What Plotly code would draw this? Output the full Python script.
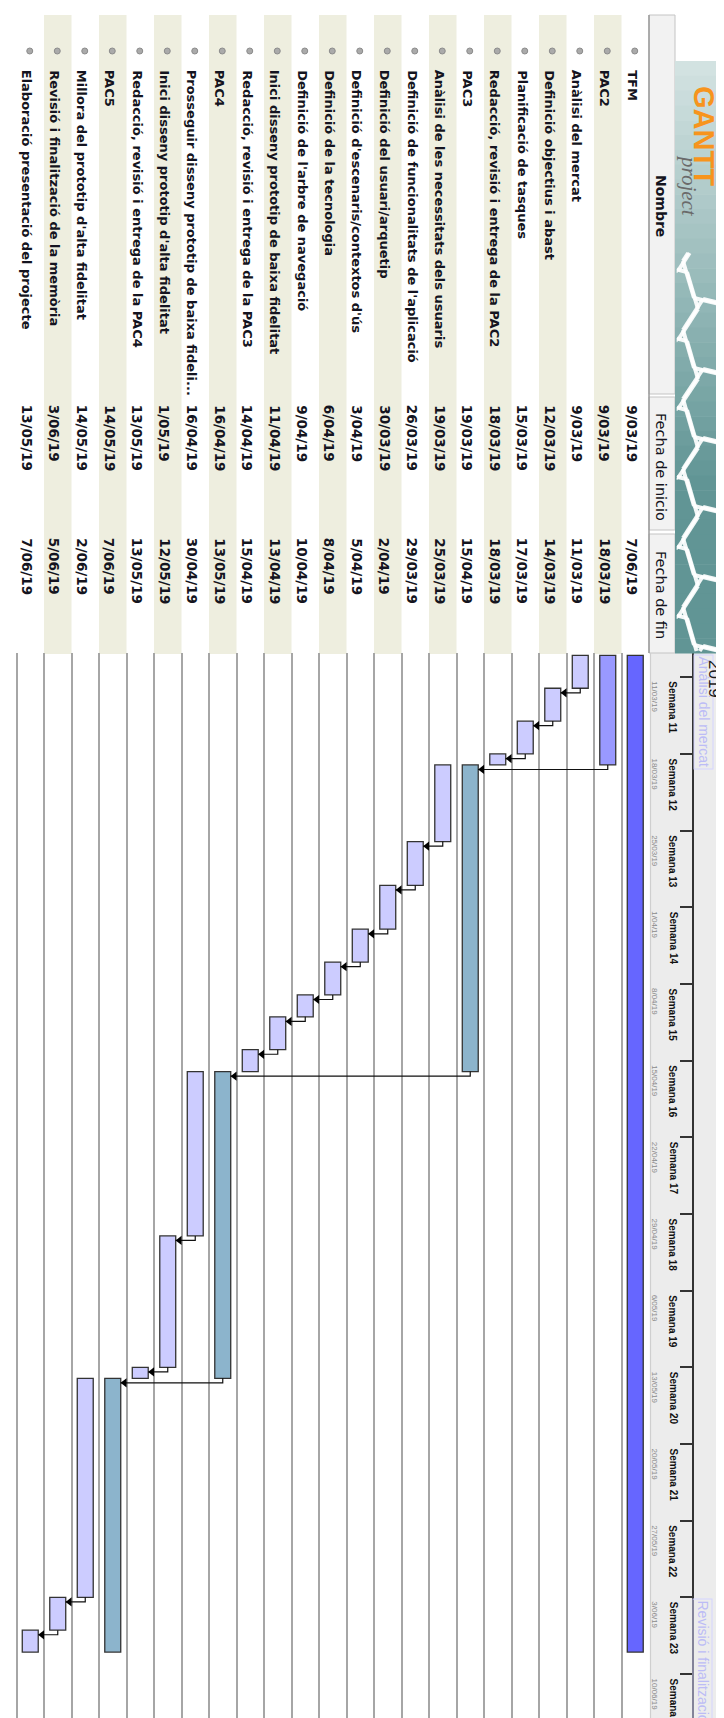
import math
import plotly.graph_objects as go
from datetime import datetime, timedelta

# ---------------- data ----------------
names = [
    "TFM", "PAC2", "Anàlisi del mercat", "Definició objectius i abast",
    "Planificació de tasques", "Redacció, revisió i entrega de la PAC2", "PAC3",
    "Anàlisi de les necessitats dels usuaris", "Definició de funcionalitats de l'aplicació",
    "Definició del usuari/arquetip", "Definició d'escenaris/contextos d'ús",
    "Definició de la tecnologia", "Definició de l'arbre de navegació",
    "Inici disseny prototip de baixa fidelitat", "Redacció, revisió i entrega de la PAC3",
    "PAC4", "Prosseguir disseny prototip de baixa fideli...",
    "Inici disseny prototip d'alta fidelitat", "Redacció, revisió i entrega de la PAC4",
    "PAC5", "Millora del prototip d'alta fidelitat", "Revisió i finalització de la memòria",
    "Elaboració presentació del projecte",
]
start_labels = ["9/03/19", "9/03/19", "9/03/19", "12/03/19", "15/03/19", "18/03/19", "19/03/19",
                "19/03/19", "26/03/19", "30/03/19", "3/04/19", "6/04/19", "9/04/19", "11/04/19",
                "14/04/19", "16/04/19", "16/04/19", "1/05/19", "13/05/19", "14/05/19", "14/05/19",
                "3/06/19", "13/05/19"]
end_labels = ["7/06/19", "18/03/19", "11/03/19", "14/03/19", "17/03/19", "18/03/19", "15/04/19",
              "25/03/19", "29/03/19", "2/04/19", "5/04/19", "8/04/19", "10/04/19", "13/04/19",
              "15/04/19", "13/05/19", "30/04/19", "12/05/19", "13/05/19", "7/06/19", "2/06/19",
              "5/06/19", "7/06/19"]
bar_start = ["2019-03-09", "2019-03-09", "2019-03-09", "2019-03-12", "2019-03-15", "2019-03-18",
             "2019-03-19", "2019-03-19", "2019-03-26", "2019-03-30", "2019-04-03", "2019-04-06",
             "2019-04-09", "2019-04-11", "2019-04-14", "2019-04-16", "2019-04-16", "2019-05-01",
             "2019-05-13", "2019-05-14", "2019-05-14", "2019-06-03", "2019-06-06"]
bar_end = ["2019-06-07", "2019-03-18", "2019-03-11", "2019-03-14", "2019-03-17", "2019-03-18",
           "2019-04-15", "2019-03-25", "2019-03-29", "2019-04-02", "2019-04-05", "2019-04-08",
           "2019-04-10", "2019-04-13", "2019-04-15", "2019-05-13", "2019-04-30", "2019-05-12",
           "2019-05-13", "2019-06-07", "2019-06-02", "2019-06-05", "2019-06-07"]
kinds = ["root", "pac2", "task", "task", "task", "task", "pac", "task", "task", "task", "task",
         "task", "task", "task", "task", "pac", "task", "task", "task", "pac", "task", "task", "task"]
deps = [(2, 3), (3, 4), (4, 5), (1, 6), (7, 8), (8, 9), (9, 10), (10, 11), (11, 12), (12, 13),
        (13, 14), (6, 15), (16, 17), (17, 18), (15, 19), (20, 21), (21, 22)]
week_starts = ["2019-03-11", "2019-03-18", "2019-03-25", "2019-04-01", "2019-04-08", "2019-04-15",
               "2019-04-22", "2019-04-29", "2019-05-06", "2019-05-13", "2019-05-20", "2019-05-27",
               "2019-06-03", "2019-06-10"]
week_labels = ["Semana 11", "Semana 12", "Semana 13", "Semana 14", "Semana 15", "Semana 16",
               "Semana 17", "Semana 18", "Semana 19", "Semana 20", "Semana 21", "Semana 22",
               "Semana 23", "Semana 24"]
week_dates = ["11/03/19", "18/03/19", "25/03/19", "1/04/19", "8/04/19", "15/04/19", "22/04/19",
              "29/04/19", "6/05/19", "13/05/19", "20/05/19", "27/05/19", "3/06/19", "10/06/19"]

# ---------------- geometry / style ----------------
W, H = 724, 1718
ROW_H = 27.5
TABLE_RIGHT = 641
CHART_TOP = 645
DAY0 = datetime(2019, 3, 11)
DAY0_PX = 669.3
PPD = 76.67 / 7

colors = {"root": "#6666ff", "pac2": "#9999ff", "pac": "#8cb4cc", "task": "#ccccff"}


def px(p):
    return p / W


def py(p):
    return 1 - p / H


def d(s):
    return datetime.strptime(s, "%Y-%m-%d")


idx = list(range(len(names)))
starts = [d(s) for s in bar_start]
ends = [d(s) + timedelta(days=1) for s in bar_end]
durs = [(e - s).total_seconds() * 1000 for s, e in zip(starts, ends)]

fig = go.Figure()

fig.add_trace(go.Bar(
    x=idx, y=durs, base=[s.strftime("%Y-%m-%d") for s in starts], width=0.58,
    orientation="v",
    marker=dict(color=[colors[k] for k in kinds], line=dict(color="#333333", width=1.3)),
    hoverinfo="skip", showlegend=False,
))

# dependency arrows
HALF_BAR = 0.29
lx, ly, ax_, ay_ = [], [], [], []
off = timedelta(hours=10)
for a, b in deps:
    yb = starts[b] + off
    lx += [a, a, b - HALF_BAR, None]
    ly += [ends[a], yb, yb, None]
    ax_.append(b - HALF_BAR - 0.14)
    ay_.append(yb)
fig.add_trace(go.Scatter(x=lx, y=ly, mode="lines", line=dict(color="#111111", width=1.2),
                         hoverinfo="skip", showlegend=False))
fig.add_trace(go.Scatter(x=ax_, y=ay_, mode="markers",
                         marker=dict(symbol="triangle-left", size=8, color="#000000"),
                         hoverinfo="skip", showlegend=False))

shapes = []
annotations = []

# table stripes
for k in idx:
    if k % 2 == 1:
        shapes.append(dict(type="rect", xref="x", yref="paper", x0=k - 0.5, x1=k + 0.5,
                           y0=py(7), y1=py(CHART_TOP + 1), fillcolor="#eeeedf",
                           line=dict(width=0), layer="below"))
# bullets
for k in idx:
    shapes.append(dict(type="circle", xref="x", yref="paper", xsizemode="pixel",
                       ysizemode="pixel", xanchor=k, yanchor=py(43), x0=-3.5, x1=2.5,
                       y0=-3, y1=3, fillcolor="#aaaaaa", line=dict(color="#8c8c8c", width=1)))

# header column (table)
for (a, b) in [(7, 386), (389, 522), (526, CHART_TOP)]:
    shapes.append(dict(type="rect", xref="paper", yref="paper", x0=px(TABLE_RIGHT),
                       x1=px(667), y0=py(a), y1=py(b), fillcolor="#f2f2f2",
                       line=dict(color="#c4c4c4", width=1)))
shapes.append(dict(type="line", xref="paper", yref="paper", x0=px(TABLE_RIGHT), x1=px(TABLE_RIGHT),
                   y0=py(7), y1=py(CHART_TOP), line=dict(color="#9a9a9a", width=1.5)))


# logo background (stepwise gradient)
def lerp(c1, c2, t):
    return "#%02x%02x%02x" % tuple(int(round(c1[i] + (c2[i] - c1[i]) * t)) for i in range(3))


top_c, bot_c = (210, 226, 225), (97, 149, 149)
n_strips = 40
y_a, y_b = 53, CHART_TOP
for i in range(n_strips):
    t = min(1.0, i / (n_strips * 0.7))
    y0 = y_a + (y_b - y_a) * i / n_strips
    y1 = y_a + (y_b - y_a) * (i + 1) / n_strips + 0.6
    shapes.append(dict(type="rect", xref="paper", yref="paper", x0=px(667), x1=px(W),
                       y0=py(y0), y1=py(y1), fillcolor=lerp(top_c, bot_c, t),
                       line=dict(width=0)))


def clip(x0, y0, x1, y1, xmin, ymin, xmax, ymax):
    dx, dy = x1 - x0, y1 - y0
    p = [-dx, dx, -dy, dy]
    q = [x0 - xmin, xmax - x0, y0 - ymin, ymax - y0]
    u1, u2 = 0.0, 1.0
    for pi, qi in zip(p, q):
        if pi == 0:
            if qi < 0:
                return None
        else:
            t = qi / pi
            if pi < 0:
                u1 = max(u1, t)
            else:
                u2 = min(u2, t)
    if u1 > u2:
        return None
    return (x0 + u1 * dx, y0 + u1 * dy, x0 + u2 * dx, y0 + u2 * dy)


# honeycomb (decoration of the logo)
RX, RY = 30, 40
segs = set()
for col in range(-1, 4):
    for row in range(-1, 9):
        cx = 660 + col * 1.5 * RX
        cy = 225 + row * math.sqrt(3) * RY + (col % 2) * math.sqrt(3) * RY / 2
        pts = [(cx + RX * math.cos(math.radians(60 * j + 10)),
                cy + RY * math.sin(math.radians(60 * j + 10))) for j in range(6)]
        for j in range(6):
            p1, p2 = pts[j], pts[(j + 1) % 6]
            key = tuple(sorted([(round(p1[0]), round(p1[1])), (round(p2[0]), round(p2[1]))]))
            segs.add(key)
for (a1, a2) in segs:
    c = clip(a1[0], a1[1], a2[0], a2[1], 669, 245, W, CHART_TOP - 2)
    if c:
        shapes.append(dict(type="line", xref="paper", yref="paper", x0=px(c[0]), y0=py(c[1]),
                           x1=px(c[2]), y1=py(c[3]),
                           line=dict(color="rgba(255,255,255,0.92)", width=4)))

# timeline header background
shapes.append(dict(type="rect", xref="paper", yref="paper", x0=px(TABLE_RIGHT + 1), x1=px(W),
                   y0=py(CHART_TOP), y1=0, fillcolor="#ececec", line=dict(width=0), layer="below"))
shapes.append(dict(type="line", xref="paper", yref="paper", x0=px(642.5), x1=px(642.5),
                   y0=py(CHART_TOP), y1=0, line=dict(color="#cfcfcf", width=1.2)))

# table texts
FONT = "DejaVu Sans"
for k in idx:
    annotations.append(dict(xref="x", yref="paper", x=k, y=py(60), xanchor="center",
                            yanchor="top", textangle=90, showarrow=False, xshift=-3,
                            text="<b>%s</b>" % names[k],
                            font=dict(family=FONT, size=13, color="#141420")))
    annotations.append(dict(xref="x", yref="paper", x=k, y=py(395), xanchor="center",
                            yanchor="top", textangle=90, showarrow=False, xshift=-3,
                            text="<b>%s</b>" % start_labels[k],
                            font=dict(family=FONT, size=13.5, color="#141420")))
    annotations.append(dict(xref="x", yref="paper", x=k, y=py(528), xanchor="center",
                            yanchor="top", textangle=90, showarrow=False, xshift=-3,
                            text="<b>%s</b>" % end_labels[k],
                            font=dict(family=FONT, size=13.5, color="#141420")))

for txt, yc, bold, sz in [("Nombre", 198, True, 14), ("Fecha de inicio", 459, False, 14.5),
                          ("Fecha de fin", 587, False, 14.5)]:
    annotations.append(dict(xref="paper", yref="paper", x=px(653), y=py(yc), xanchor="center",
                            yanchor="middle", textangle=90, showarrow=False,
                            text=("<b>%s</b>" % txt) if bold else txt,
                            font=dict(family=FONT, size=sz, color="#141420")))

# logo text
annotations.append(dict(xref="paper", yref="paper", x=px(681), y=py(178), xanchor="center",
                        yanchor="middle", textangle=90, showarrow=False, text="project",
                        font=dict(family="Liberation Serif", size=21, color="#6a6a6a",
                                  style="italic")))
annotations.append(dict(xref="paper", yref="paper", x=px(696), y=py(76), xanchor="center",
                        yanchor="top", textangle=90, showarrow=False, text="<b>GANTT</b>",
                        font=dict(family="Liberation Sans", size=29, color="#f7941d")))

# timeline header texts
for txt, y0 in [("Anàlisi del mercat", 646), ("Revisió i finalització de la memòria", 1590)]:
    annotations.append(dict(xref="paper", yref="paper", x=px(695), y=py(y0), xanchor="center",
                            yanchor="top", textangle=90, showarrow=False, text=txt,
                            bordercolor="#d4d4ff", borderwidth=1, borderpad=1,
                            font=dict(family="Liberation Sans", size=14, color="#bcbcf6")))
annotations.append(dict(xref="paper", yref="paper", x=px(706), y=py(650), xanchor="center",
                        yanchor="top", textangle=90, showarrow=False, text="2019",
                        font=dict(family="Liberation Sans", size=17, color="#1a1a1a")))
for ws, wl, wd in zip(week_starts, week_labels, week_dates):
    annotations.append(dict(xref="paper", yref="y", x=px(665), y=ws, xanchor="center",
                            yanchor="top", yshift=-2, textangle=90, showarrow=False,
                            text="<b>%s</b>" % wl,
                            font=dict(family="Liberation Sans", size=10, color="#111111")))
    annotations.append(dict(xref="paper", yref="y", x=px(646.5), y=ws, xanchor="center",
                            yanchor="top", yshift=-2, textangle=90, showarrow=False, text=wd,
                            font=dict(family="Liberation Sans", size=8, color="#8a8a8a")))

y_top = DAY0 - timedelta(days=(DAY0_PX - CHART_TOP) / PPD)
y_bot = DAY0 + timedelta(days=(H - DAY0_PX) / PPD)

fig.update_layout(
    width=W, height=H, margin=dict(l=0, r=0, t=0, b=0),
    paper_bgcolor="white", plot_bgcolor="white", barmode="overlay", showlegend=False,
    xaxis=dict(domain=[0, px(TABLE_RIGHT)], range=[TABLE_RIGHT / ROW_H - 0.5, -0.5],
               showticklabels=False, ticks="", showline=False, zeroline=False,
               showgrid=True, gridcolor="#a6a6a6", gridwidth=1.5, tick0=0.5, dtick=1,
               fixedrange=True),
    yaxis=dict(type="date", domain=[0, py(CHART_TOP)],
               range=[y_bot.strftime("%Y-%m-%d %H:%M:%S"), y_top.strftime("%Y-%m-%d %H:%M:%S")],
               anchor="free", position=px(685), side="left", showline=True,
               linecolor="#333333", linewidth=1.5, ticks="outside", ticklen=12,
               tickwidth=1.5, tickcolor="#333333", tick0="2019-03-11", dtick=7 * 86400000,
               showticklabels=False, showgrid=False, zeroline=False, fixedrange=True),
    shapes=shapes, annotations=annotations,
)

fig.write_html("out.html")
